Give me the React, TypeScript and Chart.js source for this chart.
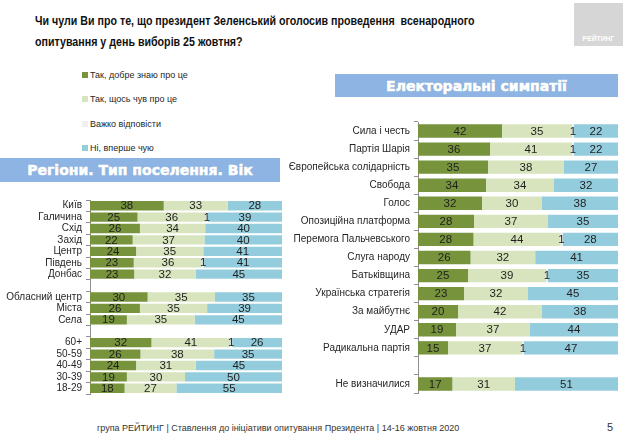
import React, { useEffect, useRef } from "react";
import { Chart, registerables } from "chart.js";

Chart.register(...registerables);

const seriesNames = ["Так, добре знаю про це", "Так, щось чув про це", "Важко відповісти", "Ні, вперше чую"];
const seriesColors = ["#77933C", "#D7E4BD", "#EFEFEF", "#93CDDD"];

const leftCategories = ["Київ", "Галичина", "Схід", "Захід", "Центр", "Південь", "Донбас", "", "Обласний центр", "Міста", "Села", "", "60+", "50-59", "40-49", "30-39", "18-29"];
const leftKnowWell = [38, 25, 26, 22, 24, 23, 23, null, 30, 26, 19, null, 32, 26, 24, 19, 18];
const leftHeard = [33, 36, 34, 37, 35, 36, 32, null, 35, 35, 35, null, 41, 38, 31, 30, 27];
const leftHard = [0, 1, 0, 0, 0, 1, 0, null, 0, 0, 0, null, 1, 0, 0, 0, 0];
const leftNever = [28, 39, 40, 40, 41, 41, 45, null, 35, 39, 45, null, 26, 35, 45, 50, 55];

const rightCategories = ["Сила і честь", "Партія Шарія", "Європейська солідарність", "Свобода", "Голос", "Опозиційна платформа", "Перемога Пальчевського", "Слуга народу", "Батьківщина", "Українська стратегія", "За майбутнє", "УДАР", "Радикальна партія", "", "Не визначилися"];
const rightKnowWell = [42, 36, 35, 34, 32, 28, 28, 26, 25, 23, 20, 19, 15, null, 17];
const rightHeard = [35, 41, 38, 34, 30, 37, 44, 32, 39, 32, 42, 37, 37, null, 31];
const rightHard = [1, 1, 0, 0, 0, 0, 1, 0, 1, 0, 0, 0, 1, null, 0];
const rightNever = [22, 22, 27, 32, 38, 35, 28, 41, 35, 45, 38, 44, 47, null, 51];

const FONT = "'Liberation Sans', Arial, sans-serif";

const valueLabels = {
  id: "valueLabels",
  afterDatasetsDraw(chart: any) {
    const ctx = chart.ctx;
    ctx.save();
    ctx.font = `11.5px ${FONT}`;
    ctx.fillStyle = "#1f1f1f";
    ctx.textAlign = "center";
    ctx.textBaseline = "middle";
    chart.data.datasets.forEach((ds: any, di: number) => {
      const meta = chart.getDatasetMeta(di);
      meta.data.forEach((el: any, i: number) => {
        const raw = ds.rawValues[i];
        if (!raw) return;
        const p = el.getCenterPoint();
        ctx.fillText(String(raw), p.x, p.y + 0.5);
      });
    });
    ctx.restore();
  },
};

function buildConfig(categories: string[], series: (number | null)[][], barPct: number, axisWidth: number) {
  const totals = categories.map((_, i) => series.reduce((s, arr) => s + (arr[i] || 0), 0));
  return {
    type: "bar" as const,
    data: {
      labels: categories,
      datasets: series.map((arr, k) => ({
        label: seriesNames[k],
        data: arr.map((v, i) => (v == null || !totals[i] ? null : (v / totals[i]) * 100)),
        rawValues: arr,
        backgroundColor: seriesColors[k],
        borderWidth: 0,
        barPercentage: barPct,
        categoryPercentage: 1,
      })),
    },
    options: {
      indexAxis: "y" as const,
      responsive: false,
      animation: false as const,
      devicePixelRatio: 1,
      layout: { padding: 0 },
      plugins: { legend: { display: false }, tooltip: { enabled: false } },
      scales: {
        x: { stacked: true, min: 0, max: 100, display: false },
        y: {
          stacked: true,
          afterFit: (scale: any) => {
            scale.width = axisWidth;
          },
          grid: { offset: true, drawOnChartArea: false, drawTicks: true, tickLength: 4, color: "#8f8f8f" },
          border: { display: true, color: "#8f8f8f" },
          ticks: { padding: 4, color: "#262626", font: { family: FONT, size: 10 }, autoSkip: false },
        },
      },
    },
    plugins: [valueLabels],
  };
}

function BarPanel(props: { left: number; top: number; width: number; height: number; categories: string[]; series: (number | null)[][]; barPct: number; axisWidth: number }) {
  const ref = useRef<HTMLCanvasElement | null>(null);
  useEffect(() => {
    if (!ref.current) return;
    const chart = new Chart(ref.current, buildConfig(props.categories, props.series, props.barPct, props.axisWidth) as any);
    return () => chart.destroy();
  }, []);
  return (
    <canvas
      ref={ref}
      width={props.width}
      height={props.height}
      style={{ position: "absolute", left: props.left, top: props.top, width: props.width, height: props.height }}
    />
  );
}

const banner: React.CSSProperties = {
  position: "absolute",
  background: "#8DB4E2",
  color: "#ffffff",
  fontFamily: "'DejaVu Sans', sans-serif",
  fontWeight: 900,
  fontSize: 14,
  display: "flex",
  alignItems: "center",
  justifyContent: "center",
  textShadow: "0 0 1px #6d8fb8",
  WebkitTextStroke: "0.6px #ffffff",
};

export default function App() {
  return (
    <div style={{ position: "fixed", left: 0, top: 0, width: 636, height: 437, background: "#ffffff", overflow: "hidden" }}>
      <div style={{ position: "absolute", left: 35, top: 10, fontFamily: FONT, fontWeight: 700, fontSize: 13.5, lineHeight: "21px", color: "#111", whiteSpace: "pre", transform: "scaleX(0.79)", transformOrigin: "0 0" }}>
        {"Чи чули Ви про те, що президент Зеленський оголосив проведення  всенародного\nопитування у день виборів 25 жовтня?"}
      </div>
      <div style={{ position: "absolute", left: 574, top: 3, width: 49, height: 43, background: "#D6D6D6" }}>
        <div style={{ position: "absolute", bottom: 3, width: "100%", textAlign: "center", color: "#fff", fontFamily: FONT, fontWeight: 700, fontSize: 8, transform: "scaleX(0.85)" }}>РЕЙТИНГ</div>
      </div>
      {seriesNames.map((name, k) => (
        <div key={name} style={{ position: "absolute", left: 82, top: 69 + k * 24.3, height: 12, display: "flex", alignItems: "center", fontFamily: FONT, fontSize: 9, color: "#262626" }}>
          <span style={{ display: "inline-block", width: 6, height: 6, background: seriesColors[k], marginRight: 2 }} />
          {name}
        </div>
      ))}
      <div style={{ ...banner, left: 0, top: 158, width: 280, height: 24 }}>Регіони. Тип поселення. Вік</div>
      <div style={{ ...banner, left: 335, top: 74, width: 283, height: 23 }}>Електоральні симпатії</div>
      <BarPanel left={0} top={190} width={282} height={214} categories={leftCategories} series={[leftKnowWell, leftHeard, leftHard, leftNever]} barPct={0.82} axisWidth={90} />
      <BarPanel left={284} top={112} width={334} height={291} categories={rightCategories} series={[rightKnowWell, rightHeard, rightHard, rightNever]} barPct={0.74} axisWidth={134} />
      <div style={{ position: "absolute", left: 97, top: 423, fontFamily: FONT, fontSize: 9, color: "#333", whiteSpace: "pre" }}>
        група РЕЙТИНГ | Ставлення до ініціативи опитування Президента | 14-16 жовтня 2020
      </div>
      <div style={{ position: "absolute", left: 607, top: 421, fontFamily: FONT, fontSize: 11, color: "#333" }}>5</div>
    </div>
  );
}
